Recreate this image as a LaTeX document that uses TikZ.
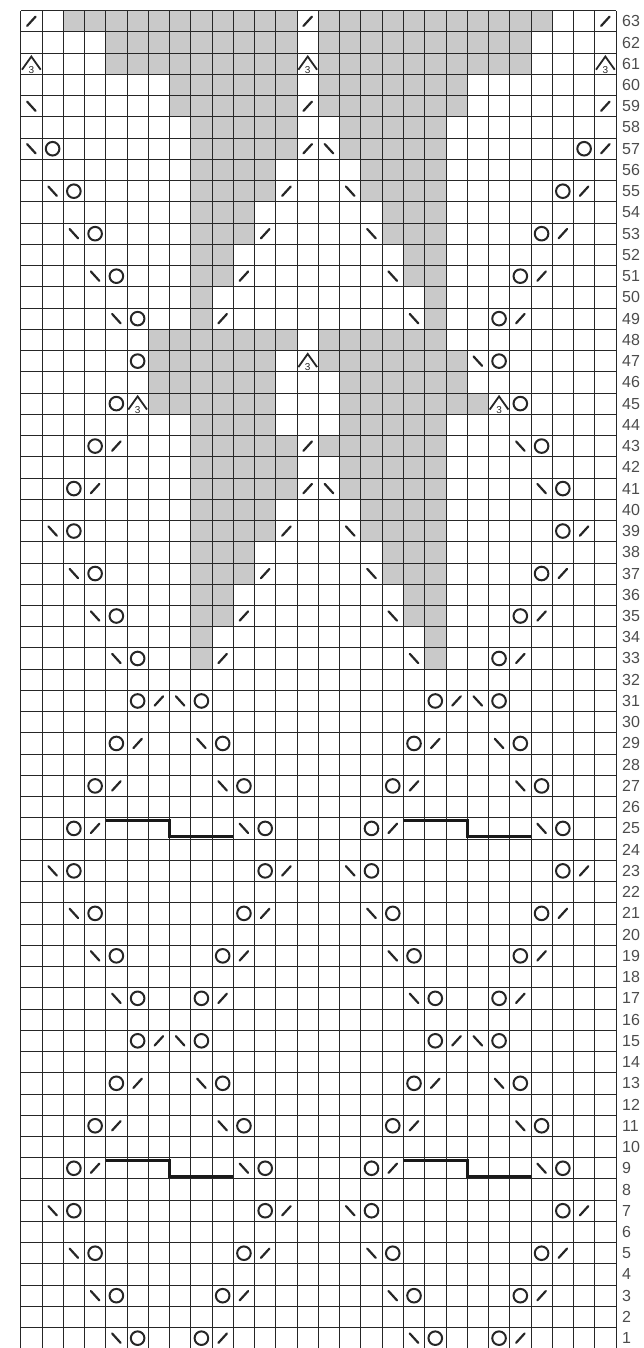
\documentclass[tikz,border=0pt]{standalone}
\usepackage{fontspec}
\setmainfont{Liberation Sans}
\begin{document}
\begin{tikzpicture}[x=21.26pt, y=21.24pt,
    gridline/.style={black!85, line width=0.8pt},
    symline/.style={black!85, line width=2.2pt, line cap=round},
    repeatline/.style={black!90, line width=3pt},
    rowlabel/.style={anchor=west, inner sep=0pt, text=black!70, font=\fontsize{16}{16}\selectfont},
    pics/decright/.style={code={\draw[symline] (-0.2,-0.22) -- (0.2,0.22);}},
    pics/decleft/.style={code={\draw[symline] (-0.2,0.22) -- (0.2,-0.22);}},
    pics/yarnover/.style={code={\draw[symline, line width=2pt] (0,0) circle[radius=0.32];}},
    pics/dectriple/.style={code={
        \draw[symline, line width=1.8pt, line cap=butt] (-0.44,-0.28) -- (0,0.34) -- (0.44,-0.28);
        \node[inner sep=0pt, text=black!85, font=\fontsize{10}{10}\selectfont] (-three) at (0,-0.3) {3};}}]

    % Chart size
    \def\numCols{28}
    \def\numRows{63}

    \definecolor{fillColour}{HTML}{C9C9C9}

    % Fix the margins
    \useasboundingbox (-20.7pt,0.8pt) rectangle (622.3pt,1348.8pt);

    % Shaded stitches: row/first/last column
    \foreach \r/\a/\b in {63/2/12, 63/14/24, 62/4/12, 62/14/23, 61/4/12, 61/14/23,
            60/7/12, 60/14/20, 59/7/12, 59/14/20, 58/8/12, 58/15/19, 57/8/12, 57/15/19,
            56/8/11, 56/16/19, 55/8/11, 55/16/19, 54/8/10, 54/17/19, 53/8/10, 53/17/19,
            52/8/9, 52/18/19, 51/8/9, 51/18/19, 50/8/8, 50/19/19, 49/8/8, 49/19/19,
            48/6/12, 48/14/19, 47/6/11, 47/14/20, 46/6/11, 46/15/20, 45/6/11, 45/15/21,
            44/8/11, 44/15/19, 43/8/12, 43/14/19, 42/8/12, 42/15/19, 41/8/12, 41/15/19,
            40/8/11, 40/16/19, 39/8/11, 39/16/19, 38/8/10, 38/17/19, 37/8/10, 37/17/19,
            36/8/9, 36/18/19, 35/8/9, 35/18/19, 34/8/8, 34/19/19, 33/8/8, 33/19/19}
        \fill[fillColour] (\a,\r-1) rectangle (\b+1,\r);

    % Draw grid
    \draw[gridline, step=1] (0,0) grid (\numCols,\numRows);

    % Row numbers
    \foreach \r in {1,...,\numRows}
        \node[rowlabel] (row\r) at ([xshift=6pt]\numCols,\r-0.5) {\r};

    % Lower diamonds, repeated across and up
    \foreach \dc in {0,14}
        \foreach \dr in {0,16} {
            \foreach \c/\r in {9/1,10/3,11/5,12/7,3/9,4/11,5/13,6/15}
                \pic at (\c+\dc+0.5,\r+\dr-0.5) {decright};
            \foreach \c/\r in {4/1,3/3,2/5,1/7,10/9,9/11,8/13,7/15}
                \pic at (\c+\dc+0.5,\r+\dr-0.5) {decleft};
            \foreach \c/\r in {5/1,8/1,4/3,9/3,3/5,10/5,2/7,11/7,2/9,11/9,3/11,10/11,4/13,9/13,5/15,8/15}
                \pic at (\c+\dc+0.5,\r+\dr-0.5) {yarnover};
            \draw[repeatline] (4+\dc,8.87+\dr) -- (7+\dc,8.87+\dr) -- (7+\dc,8.11+\dr) -- (10+\dc,8.11+\dr);
        }

    % Upper motif
    \foreach \c/\r in {0/63,13/63,27/63,13/59,27/59,13/57,27/57,12/55,26/55,11/53,25/53,
            10/51,24/51,9/49,23/49,4/43,13/43,3/41,13/41,12/39,26/39,11/37,25/37,
            10/35,24/35,9/33,23/33}
        \pic at (\c+0.5,\r-0.5) {decright};
    \foreach \c/\r in {0/59,0/57,14/57,1/55,15/55,2/53,16/53,3/51,17/51,4/49,18/49,
            21/47,23/43,14/41,24/41,1/39,15/39,2/37,16/37,3/35,17/35,4/33,18/33}
        \pic at (\c+0.5,\r-0.5) {decleft};
    \foreach \c/\r in {1/57,26/57,2/55,25/55,3/53,24/53,4/51,23/51,5/49,22/49,5/47,22/47,
            4/45,23/45,3/43,24/43,2/41,25/41,2/39,25/39,3/37,24/37,4/35,23/35,5/33,22/33}
        \pic at (\c+0.5,\r-0.5) {yarnover};
    \foreach \c/\r in {0/61,13/61,27/61,13/47,5/45,22/45}
        \pic (tri\c-\r) at (\c+0.5,\r-0.5) {dectriple};

\end{tikzpicture}
\end{document}
